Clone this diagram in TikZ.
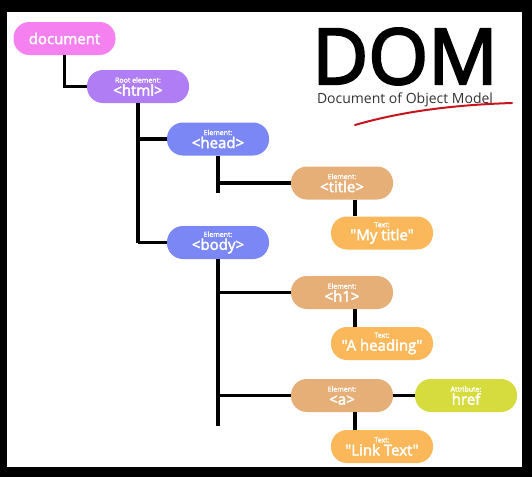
\documentclass[tikz,border=0pt]{standalone}
\usepackage{fontspec}
\setmainfont{Open Sans}
\newfontfamily\nodefont{Open Sans}[FakeBold=2.5]
\newfontfamily\domfont{Open Sans}[FakeBold=3]
\usetikzlibrary{calc}
\definecolor{cdoc}{RGB}{245,128,240}
\definecolor{chtml}{RGB}{176,125,245}
\definecolor{cblue}{RGB}{122,135,245}
\definecolor{ctan}{RGB}{230,175,120}
\definecolor{corange}{RGB}{250,184,90}
\definecolor{cattr}{RGB}{215,220,62}
\definecolor{cred}{RGB}{200,20,30}
\newcommand{\smalllbl}[1]{{\fontsize{7}{8}\selectfont #1}}
\newcommand{\dq}{\char34{}}
\begin{document}
\begin{tikzpicture}[x=1pt,y=-1pt,
  pill/.style={rounded corners=16pt, minimum width=102pt, minimum height=33pt,
    inner sep=0pt, text=white, align=center, font=\nodefont\fontsize{15}{15}\selectfont},
  conn/.style={line width=3.5pt}]
\useasboundingbox (0,0) rectangle (532,477);
\fill[black] (0,0) rectangle (532,477);
\fill[white] (7,12) rectangle (522,467);

\node[font=\domfont\fontsize{77}{77}\selectfont, anchor=base, inner sep=0pt] (dom) at (405,84) {DOM};
\node[font=\fontsize{14}{14}\selectfont, anchor=base, inner sep=0pt, text=black!80] (sub) at (405,103) {Document of Object Model};
\draw[cred, line width=2pt, line cap=round] (355,125) .. controls (400,112) and (450,105) .. (512,103);

\node[pill, fill=cdoc] (doc) at (64.5,38.5) {document};
\node[pill, fill=chtml] (html) at (138,86.5) {\smalllbl{Root element:}\\[-2pt]<html>};
\node[pill, fill=cblue] (head) at (218,139) {\smalllbl{Element:}\\[-2pt]<head>};
\node[pill, fill=cblue] (body) at (218,242.5) {\smalllbl{Element:}\\[-2pt]<body>};
\node[pill, fill=ctan] (title) at (342,183) {\smalllbl{Element:}\\[-2pt]<title>};
\node[pill, fill=corange] (mytitle) at (382,233) {\smalllbl{Text:}\\[-2pt]\dq My title\dq};
\node[pill, fill=ctan] (h1) at (342,292.5) {\smalllbl{Element:}\\[-2pt]<h1>};
\node[pill, fill=corange] (ahead) at (382,343.5) {\smalllbl{Text:}\\[-2pt]\dq A heading\dq};
\node[pill, fill=ctan] (a) at (342,395.5) {\smalllbl{Element:}\\[-2pt]<a>};
\node[pill, fill=cattr] (href) at (466,395.5) {\smalllbl{Attribute:}\\[-2pt]href};
\node[pill, fill=corange] (link) at (382,446.5) {\smalllbl{Text:}\\[-2pt]\dq Link Text\dq};

\coordinate (tx) at (355,0);
\draw[conn] (doc.south) |- (html.west);
\draw[conn] (html.south) -- (html.south |- body.west);
\draw[conn] (html.south |- head.west) -- (head.west);
\draw[conn] (html.south |- body.west) -- (body.west);
\draw[conn] (head.south) -- ($(head.south |- title.west)+(0,10)$);
\draw[conn] (head.south |- title.west) -- (title.west);
\draw[conn] (title.south -| tx) -- (mytitle.north -| tx);
\draw[conn] (body.south) -- ($(body.south |- a.west)+(0,30)$);
\draw[conn] (body.south |- h1.west) -- (h1.west);
\draw[conn] (body.south |- a.west) -- (a.west);
\draw[conn] (h1.south -| tx) -- (ahead.north -| tx);
\draw[conn] (a.east) -- (href.west);
\draw[conn] (a.south -| tx) -- (link.north -| tx);
\end{tikzpicture}
\end{document}
